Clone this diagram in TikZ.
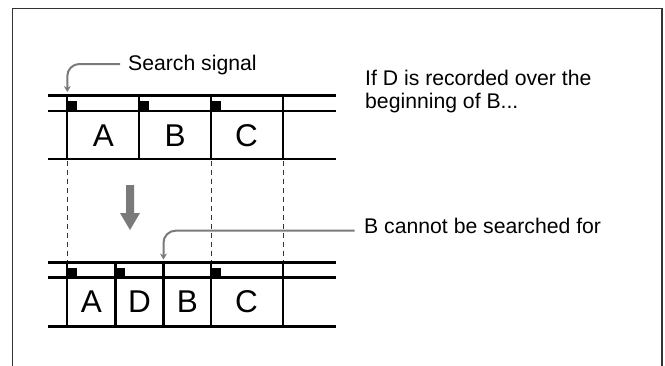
\documentclass[tikz,border=0pt]{standalone}
\usepackage{fontspec}
\setmainfont{Liberation Sans}
\usetikzlibrary{arrows.meta}
\definecolor{callgray}{HTML}{7A7A7A}
\definecolor{framegray}{HTML}{333333}
\tikzset{
  framestyle/.style={draw=framegray, line width=1.6pt},
  tapeline/.style={draw=black, line width=2.6pt},
  divline/.style={draw=black, line width=2.1pt},
  guide/.style={draw=black!80, line width=1pt, dash pattern=on 5pt off 4pt},
  callout/.style={draw=callgray, line width=2pt, rounded corners=12pt, -{Stealth[length=6pt,width=7pt]}},
  marker/.style={fill=black},
  cell/.style={inner sep=0pt, font=\fontsize{31.5pt}{31.5pt}\selectfont},
  label/.style={inner sep=0pt, anchor=base west, align=left, font=\fontsize{21.2pt}{23.3pt}\selectfont},
}
\begin{document}
\begin{tikzpicture}[x=1pt, y=-1pt]
\useasboundingbox (0,0) rectangle (665,365);
% frame
\draw[framestyle] (12.5,366) -- (12.5,8.5) -- (662,8.5) -- (662,366);

% ---------- top tape ----------
\foreach \y in {95.5,111,159} \draw[tapeline] (48.3,\y) -- (336,\y);
\foreach \x in {67.3,139.3,211,283.3} \draw[divline] (\x,95.5) -- (\x,159);
\foreach \x in {67.3,139.3,211} \fill[marker] (\x+0.5,110) rectangle (\x+9.5,100.5);
\node[cell] (tA) at (103.3,135.5) {A};
\node[cell] (tB) at (175.2,135.5) {B};
\node[cell] (tC) at (246.5,135.5) {C};

% ---------- bottom tape ----------
\foreach \y in {262.5,277.5,326.5} \draw[tapeline] (48.3,\y) -- (336,\y);
\foreach \x in {67.3,115.5,163.5,211,283.3} \draw[divline] (\x,262.5) -- (\x,326.5);
\foreach \x in {67.3,115.5,211} \fill[marker] (\x+0.5,276.5) rectangle (\x+9.5,267.5);
\node[cell] (bA) at (91.4,302) {A};
\node[cell] (bD) at (139.5,302) {D};
\node[cell] (bB) at (187.3,302) {B};
\node[cell] (bC) at (246.5,302) {C};

% dashed guides
\foreach \x in {67.3,211,283.3} \draw[guide] (\x,160.5) -- (\x,261);

% big down arrow
\fill[callgray] (126,185) -- (134,185) -- (134,213) -- (140,213) -- (130,230) -- (120,213) -- (126,213) -- cycle;

% labels
\node[label] (ss) at (128,70.5) {Search signal};
\node[label] (ifd) at (365,108.3) {If D is recorded over the\\beginning of B...};
\node[label] (bc) at (364,233.3) {B cannot be searched for};

% callouts
\coordinate (sstip) at (67.3,92);
\coordinate (bctip) at (163.5,259.5);
\draw[callout] ([xshift=-8pt,yshift=6.5pt]ss.base west) -| (sstip);
\draw[callout] ([xshift=-9.5pt,yshift=2.6pt]bc.base west) -| (bctip);
\end{tikzpicture}
\end{document}
